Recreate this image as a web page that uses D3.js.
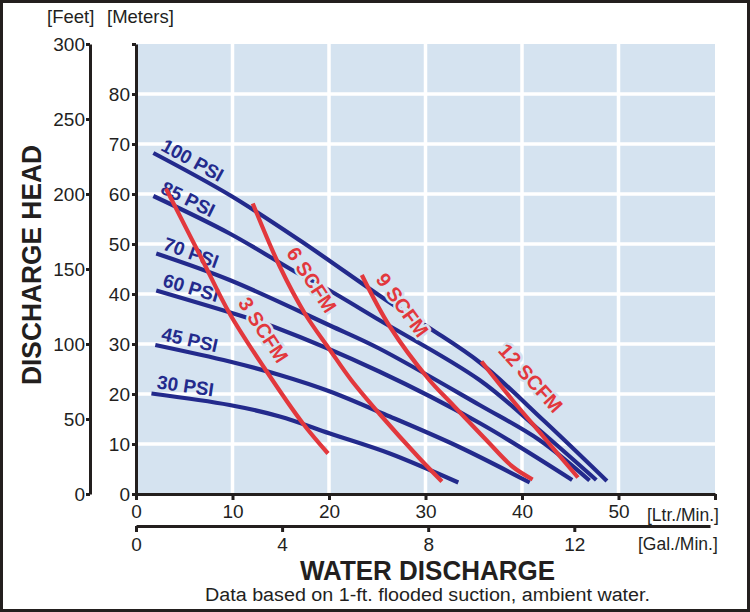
<!DOCTYPE html>
<html>
<head>
<meta charset="utf-8">
<script src="https://cdn.jsdelivr.net/npm/d3@7"></script>
<style>
  body { margin: 0; background: #fff; }
  svg { display: block; }
  text { font-family: "Liberation Sans", Arial, sans-serif; }
</style>
</head>
<body>
<svg id="chart" width="750" height="612"></svg>
<script>
// flow in litres/min, head in metres
const psiNames = ["100 PSI", "85 PSI", "70 PSI", "60 PSI", "45 PSI", "30 PSI"]
const psi100 = [[1.8, 68.2], [9.7, 59.8], [17.0, 50.7], [25.9, 38.8], [30.4, 33.2], [35.7, 26.2], [42.3, 14.6], [48.8, 2.6]]
const psi85 = [[1.8, 59.6], [9.7, 52.1], [16.8, 44.1], [19.7, 41.1], [25.2, 34.8], [35.6, 22.8], [41.8, 12.8], [47.7, 2.8]]
const psi70 = [[2.1, 48.1], [9.7, 42.8], [20.1, 33.7], [25.2, 29.1], [35.6, 17.8], [41.8, 10.8], [47.0, 2.7]]
const psi60 = [[2.1, 40.7], [11.1, 35.5], [14.2, 33.5], [25.2, 24.5], [35.6, 14.2], [45.2, 2.8]]
const psi45 = [[2.0, 29.8], [9.7, 26.5], [14.9, 23.8], [20.1, 20.5], [26.3, 15.5], [33.5, 9.4], [40.8, 2.3]]
const psi30 = [[1.6, 20.1], [9.7, 17.8], [14.9, 15.5], [20.1, 12.1], [26.3, 8.1], [33.4, 2.3]]

const scfmNames = ["3 SCFM", "6 SCFM", "9 SCFM", "12 SCFM"]
const scfm3 = [[3.1, 61.1], [6.8, 47.1], [9.7, 36.1], [13.3, 25.2], [17.3, 14.1], [19.9, 8.1]]
const scfm6 = [[12.1, 58.1], [14.9, 45.5], [17.5, 36.1], [20.1, 28.8], [22.3, 22.8], [25.2, 16.1], [29.4, 7.1], [31.7, 2.5]]
const scfm9 = [[23.4, 43.8], [26.3, 33.5], [30.4, 22.8], [32.5, 18.5], [36.3, 10.8], [39.0, 5.5], [41.1, 2.9]]
const scfm12 = [[35.8, 26.5], [39.0, 18.8], [42.2, 11.5], [45.8, 3.3]]

const ltrTicks = [0, 10, 20, 30, 40, 50, 60]
const galTicks = [0, 4, 8, 12]
const meterTicks = [0, 10, 20, 30, 40, 50, 60, 70, 80, 90]
const feetTicks = [0, 50, 100, 150, 200, 250, 300]

// where the air-flow labels sit (litres/min, metres) and their tilt
const scfmLabelSpots = [[13.2, 32.8, 57], [18.2, 42.8, 57], [27.6, 37.8, 54], [40.9, 23.2, 48]]

const psiCurves = [psi100, psi85, psi70, psi60, psi45, psi30]
const scfmCurves = [scfm3, scfm6, scfm9, scfm12]

const blue = "#232a8c", red = "#e2383d", bg = "#d5e3f0", ink = "#231f1e"
const font = "'Liberation Sans', Arial, sans-serif"

const svg = d3.select("#chart")

const x = d3.scaleLinear().domain([0, 60]).range([136, 715])
const y = d3.scaleLinear().domain([0, 90]).range([494, 44])
const yFeet = d3.scaleLinear().domain([0, 300]).range([494, 44])
const xGal = d3.scaleLinear().domain([0, x.invert(710) / 3.785]).range([136, 710])

svg.append("rect")
  .attr("x", 1.5).attr("y", 1.5).attr("width", 747).attr("height", 609)
  .attr("fill", "#fff").attr("stroke", ink).attr("stroke-width", 3)

svg.append("rect")
  .attr("x", x(0)).attr("y", y(90))
  .attr("width", x(60) - x(0)).attr("height", y(0) - y(90))
  .attr("fill", bg)

var grid = svg.append("g").attr("stroke", "#fff").attr("stroke-width", 3.5)
grid.selectAll(".vx").data(ltrTicks.filter(d => d > 0 && d < 60)).enter()
  .append("line")
  .attr("x1", d => x(d)).attr("x2", d => x(d))
  .attr("y1", y(90)).attr("y2", y(0))
grid.selectAll(".hy").data(meterTicks.filter(d => d > 0 && d < 90)).enter()
  .append("line")
  .attr("x1", x(0)).attr("x2", x(60))
  .attr("y1", d => y(d)).attr("y2", d => y(d))

var line = d3.line()
  .x(d => x(d[0]))
  .y(d => y(d[1]))
  .curve(d3.curveCatmullRom.alpha(0.5))

svg.append("g").selectAll("path").data(psiCurves).enter()
  .append("path")
  .attr("d", line)
  .attr("fill", "none").attr("stroke", blue).attr("stroke-width", 4.2)

// pressure labels ride just above the start of each curve
psiCurves.forEach((c, i) => {
  let x0 = x(c[0][0]), y0 = y(c[0][1])
  let a = Math.atan2(y(c[1][1]) - y0, x(c[1][0]) - x0)
  let px = x0 + 4 * Math.cos(a) + 6 * Math.sin(a)
  let py = y0 + 4 * Math.sin(a) - 6 * Math.cos(a)
  svg.append("text")
    .attr("transform", `translate(${px},${py}) rotate(${a * 180 / Math.PI})`)
    .attr("fill", blue).attr("font-weight", "bold").attr("font-size", 19)
    .text(psiNames[i])
})

svg.append("g").selectAll("path").data(scfmCurves).enter()
  .append("path")
  .attr("d", line)
  .attr("fill", "none").attr("stroke", red).attr("stroke-width", 4.2)

svg.append("g").selectAll("text").data(scfmLabelSpots).enter()
  .append("text")
  .attr("transform", d => `translate(${x(d[0])},${y(d[1])}) rotate(${d[2]})`)
  .attr("text-anchor", "middle").attr("dominant-baseline", "central")
  .attr("fill", red).attr("font-weight", "bold").attr("font-size", 20)
  .attr("stroke", bg).attr("stroke-width", 5).attr("stroke-linejoin", "round")
  .attr("paint-order", "stroke")
  .text((d, i) => scfmNames[i])

function styleAxis(g) {
  g.select(".domain").attr("stroke", ink).attr("stroke-width", 3)
  g.selectAll(".tick line").attr("stroke", ink).attr("stroke-width", 3)
  g.selectAll(".tick text").attr("fill", ink).attr("font-size", 19).attr("font-family", font)
}

svg.append("g").attr("transform", "translate(90,0)")
  .call(d3.axisLeft(yFeet).tickValues(feetTicks).tickSize(4).tickSizeOuter(0).tickPadding(1))
  .call(styleAxis)

svg.append("g").attr("transform", `translate(${x(0)},0)`)
  .call(d3.axisLeft(y).tickValues(meterTicks).tickSize(4).tickSizeOuter(0).tickPadding(2)
    .tickFormat(d => d === 90 ? "" : d))
  .call(styleAxis)

svg.append("g").attr("transform", `translate(0,${y(0)})`)
  .call(d3.axisBottom(x).tickValues(ltrTicks).tickSize(6).tickSizeOuter(0).tickPadding(5)
    .tickFormat(d => d === 60 ? "" : d))
  .call(styleAxis)

svg.append("g").attr("transform", "translate(0,526)")
  .call(d3.axisBottom(xGal).tickValues(galTicks).tickSize(6).tickSizeOuter(0).tickPadding(6))
  .call(styleAxis)

function label(txt, px, py, size) {
  return svg.append("text").attr("x", px).attr("y", py)
    .attr("fill", ink).attr("font-size", size).text(txt)
}
label("[Feet]", 47, 23, 18.5)
label("[Meters]", 107, 23, 18.5)
label("[Ltr./Min.]", 647, 521, 17.5)
label("[Gal./Min.]", 638, 550, 17.5)

label("WATER DISCHARGE", 427.5, 580, 27)
  .attr("text-anchor", "middle").attr("font-weight", "bold")
  .attr("textLength", 255).attr("lengthAdjust", "spacingAndGlyphs")

label("Data based on 1-ft. flooded suction, ambient water.", 427.5, 601, 18)
  .attr("text-anchor", "middle")
  .attr("textLength", 445).attr("lengthAdjust", "spacingAndGlyphs")

svg.append("text")
  .attr("transform", "translate(41,265) rotate(-90)")
  .attr("text-anchor", "middle").attr("fill", ink)
  .attr("font-weight", "bold").attr("font-size", 27)
  .attr("textLength", 240).attr("lengthAdjust", "spacingAndGlyphs")
  .text("DISCHARGE HEAD")
</script>
</body>
</html>
